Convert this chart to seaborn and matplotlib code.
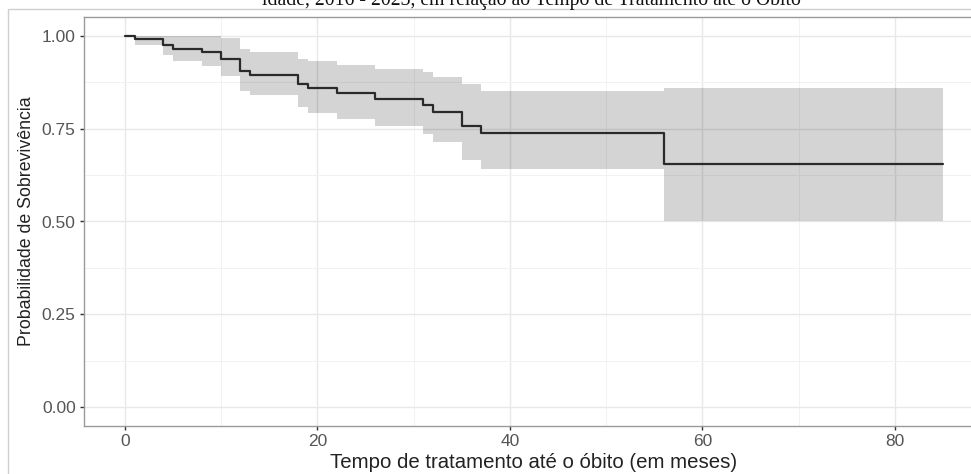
import numpy as np
import pandas as pd
import seaborn as sns
import matplotlib.pyplot as plt
from matplotlib.patches import Rectangle
from matplotlib.ticker import MultipleLocator

# Kaplan-Meier estimate (months, survival, 95% CI)
tempo = [0, 1, 4, 5, 8, 10, 12, 13, 18, 19, 22, 26, 31, 32, 35, 37, 56, 85]
sobrev = [1.0, 0.992, 0.974, 0.964, 0.955, 0.936, 0.904, 0.895, 0.870, 0.859,
          0.846, 0.829, 0.812, 0.794, 0.758, 0.737, 0.655, 0.655]
inferior = [1.0, 0.976, 0.949, 0.931, 0.919, 0.892, 0.852, 0.839, 0.808, 0.792,
            0.776, 0.758, 0.736, 0.713, 0.665, 0.642, 0.501, 0.501]
superior = [1.0, 1.0, 1.0, 1.0, 1.0, 0.994, 0.965, 0.956, 0.937, 0.931,
            0.920, 0.910, 0.901, 0.889, 0.870, 0.850, 0.858, 0.858]

titulo = "idade, 2016 - 2023, em relação ao Tempo de Tratamento até o Óbito"
xlabel = "Tempo de tratamento até o óbito (em meses)"
ylabel = "Probabilidade de Sobrevivência"

sns.set_theme(style="whitegrid")
plt.rcParams['font.family'] = ['Liberation Sans', 'DejaVu Sans']

df = pd.DataFrame({'tempo': tempo, 'sobrev': sobrev})

fig = plt.figure(figsize=(9.71, 4.74), dpi=100)
ax = fig.add_axes([84 / 971, 48 / 474, 900 / 971, 409 / 474])

ax.fill_between(tempo, inferior, superior, step='post',
                color='black', alpha=0.17, linewidth=0, zorder=2)
sns.lineplot(data=df, x='tempo', y='sobrev', ax=ax, estimator=None,
             drawstyle='steps-post', color='#2a2a2a', linewidth=1.6, zorder=3)

ax.set_xlim(-4.25, 89.25)
ax.set_ylim(-0.05, 1.05)
ax.xaxis.set_major_locator(MultipleLocator(20))
ax.xaxis.set_minor_locator(MultipleLocator(10))
ax.yaxis.set_major_locator(MultipleLocator(0.25))
ax.yaxis.set_minor_locator(MultipleLocator(0.125))
ax.set_yticklabels([f"{v:.2f}" for v in ax.get_yticks()])

ax.grid(which='major', color='#e8e8e8', linewidth=1.0)
ax.grid(which='minor', color='#f2f2f2', linewidth=0.7)
ax.set_axisbelow(True)

for s in ax.spines.values():
    s.set_color('#9a9a9a')
    s.set_linewidth(1.0)
ax.spines['right'].set_visible(False)

ax.tick_params(which='major', direction='out', length=3, width=1,
               color='#333333', labelcolor='#555555', labelsize=12.5, pad=3,
               bottom=True, left=True)
ax.tick_params(which='minor', length=0)

ax.set_xlabel(xlabel, fontsize=14.7, color='#222222', labelpad=3)
ax.set_ylabel(ylabel, fontsize=12.8, color='#222222', labelpad=5)

# outer frame of the exported image and the cropped title
fig.patches.append(Rectangle((8 / 971, -0.1), 1.2, 1.1 - 9 / 474,
                             transform=fig.transFigure, fill=False,
                             edgecolor='#cfcfcf', linewidth=1.0))
fig.text(531 / 971, 1 - 5 / 474, titulo, ha='center', va='baseline',
         fontsize=14.2, family=['Liberation Serif', 'DejaVu Serif'], color='#111111')

fig.savefig('out.png', dpi=100)
